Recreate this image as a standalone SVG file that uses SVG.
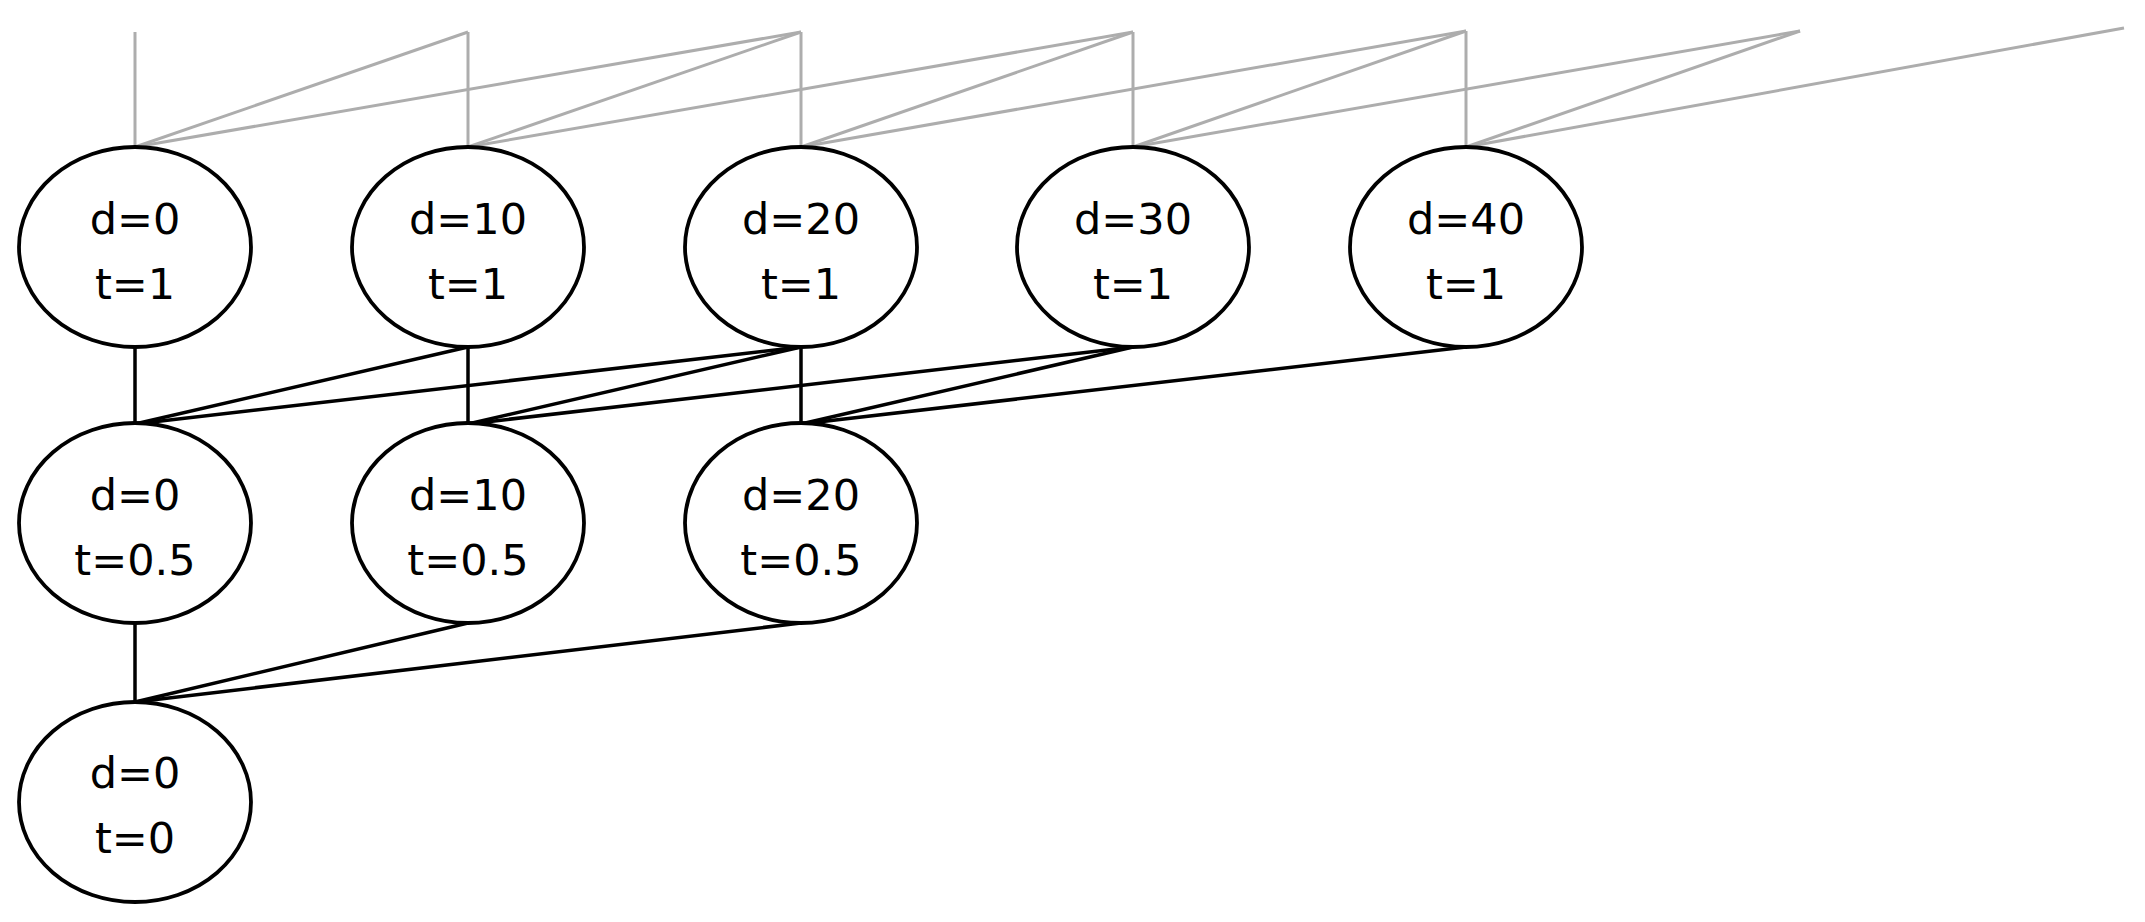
<svg xmlns="http://www.w3.org/2000/svg" width="2145" height="922" viewBox="0 0 2145 922">
<style>
.n ellipse{fill:#fff;stroke:#000;stroke-width:3.8}
.n text{font-family:"DejaVu Sans","Liberation Sans",sans-serif;font-size:43px;fill:#000;text-anchor:middle}
.g line{stroke:#ADADAD;stroke-width:3}
.b line{stroke:#000;stroke-width:3.5}
</style>
<rect width="2145" height="922" fill="#fff"/>
<g id="connectors">
<g class="g">
<line x1="135" y1="147" x2="135" y2="32"/><line x1="135" y1="147" x2="468" y2="32"/><line x1="135" y1="147" x2="801" y2="32"/>
<line x1="468" y1="147" x2="468" y2="32"/><line x1="468" y1="147" x2="801" y2="32"/><line x1="468" y1="147" x2="1133" y2="32"/>
<line x1="801" y1="147" x2="801" y2="32"/><line x1="801" y1="147" x2="1133" y2="32"/><line x1="801" y1="147" x2="1466" y2="31"/>
<line x1="1133" y1="147" x2="1133" y2="32"/><line x1="1133" y1="147" x2="1466" y2="31"/><line x1="1133" y1="147" x2="1800" y2="31"/>
<line x1="1466" y1="147" x2="1466" y2="31"/><line x1="1466" y1="147" x2="1800" y2="31"/><line x1="1466" y1="147" x2="2124" y2="28"/>
</g>
<g class="b">
<line x1="135" y1="347" x2="135" y2="424"/><line x1="468" y1="347" x2="135" y2="424"/><line x1="801" y1="347" x2="135" y2="424"/>
<line x1="468" y1="347" x2="468" y2="424"/><line x1="801" y1="347" x2="468" y2="424"/><line x1="1133" y1="347" x2="468" y2="424"/>
<line x1="801" y1="347" x2="801" y2="424"/><line x1="1133" y1="347" x2="801" y2="424"/><line x1="1466" y1="347" x2="801" y2="424"/>
<line x1="135" y1="623" x2="135" y2="702"/><line x1="468" y1="623" x2="135" y2="702"/><line x1="801" y1="623" x2="135" y2="702"/>
</g>
</g>
<g id="n_d0_t1" class="n"><ellipse cx="135" cy="247" rx="116" ry="100"/><text x="135" y="234">d=0</text><text x="135" y="299">t=1</text></g>
<g id="n_d10_t1" class="n"><ellipse cx="468" cy="247" rx="116" ry="100"/><text x="468" y="234">d=10</text><text x="468" y="299">t=1</text></g>
<g id="n_d20_t1" class="n"><ellipse cx="801" cy="247" rx="116" ry="100"/><text x="801" y="234">d=20</text><text x="801" y="299">t=1</text></g>
<g id="n_d30_t1" class="n"><ellipse cx="1133" cy="247" rx="116" ry="100"/><text x="1133" y="234">d=30</text><text x="1133" y="299">t=1</text></g>
<g id="n_d40_t1" class="n"><ellipse cx="1466" cy="247" rx="116" ry="100"/><text x="1466" y="234">d=40</text><text x="1466" y="299">t=1</text></g>
<g id="n_d0_t05" class="n"><ellipse cx="135" cy="523" rx="116" ry="100"/><text x="135" y="510">d=0</text><text x="135" y="575">t=0.5</text></g>
<g id="n_d10_t05" class="n"><ellipse cx="468" cy="523" rx="116" ry="100"/><text x="468" y="510">d=10</text><text x="468" y="575">t=0.5</text></g>
<g id="n_d20_t05" class="n"><ellipse cx="801" cy="523" rx="116" ry="100"/><text x="801" y="510">d=20</text><text x="801" y="575">t=0.5</text></g>
<g id="n_d0_t0" class="n"><ellipse cx="135" cy="802" rx="116" ry="100"/><text x="135" y="788">d=0</text><text x="135" y="853">t=0</text></g>
</svg>
